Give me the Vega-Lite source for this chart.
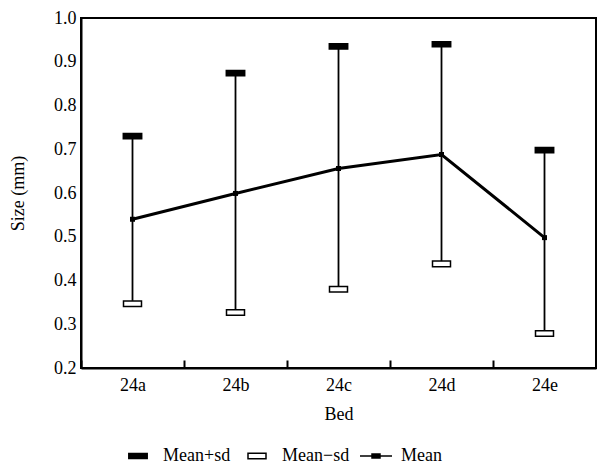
{
  "$schema": "https://vega.github.io/schema/vega-lite/v6.json",
  "width": 515,
  "height": 350,
  "autosize": {"type": "none"},
  "padding": {"left": 81, "top": 18, "right": 1, "bottom": 100},
  "background": "white",
  "config": {
    "view": {"stroke": "black", "strokeWidth": 2},
    "axis": {"domainColor": "black", "domainWidth": 2, "labelColor": "black", "titleColor": "black", "labelFontSize": 18, "titleFontSize": 18, "titleFontWeight": "normal", "grid": false}
  },
  "datasets": {
    "beds": [
      {"bed": "24a", "mean": 0.540, "hi": 0.730, "lo": 0.347},
      {"bed": "24b", "mean": 0.599, "hi": 0.874, "lo": 0.327},
      {"bed": "24c", "mean": 0.656, "hi": 0.935, "lo": 0.380},
      {"bed": "24d", "mean": 0.688, "hi": 0.940, "lo": 0.438},
      {"bed": "24e", "mean": 0.498, "hi": 0.698, "lo": 0.279}
    ]
  },
  "data": {"name": "beds"},
  "encoding": {
    "x": {
      "field": "bed", "type": "nominal",
      "scale": {"type": "band", "paddingInner": 0, "paddingOuter": 0},
      "axis": {"title": "Bed", "labelFont": "Liberation Serif", "titleFont": "Liberation Serif", "labelAngle": 0, "tickBand": "extent", "tickSize": -8, "tickColor": "black", "tickWidth": 2, "labelPadding": 16, "titlePadding": 11}
    }
  },
  "layer": [
    {
      "mark": {"type": "rule", "color": "black", "strokeWidth": 1.8},
      "encoding": {
        "y": {"field": "lo", "type": "quantitative", "scale": {"domain": [0.2, 1.0], "nice": false, "zero": false},
          "axis": {"title": "Size (mm)", "labelFont": "Liberation Serif", "titleFont": "Liberation Serif", "values": [0.2, 0.3, 0.4, 0.5, 0.6, 0.7, 0.8, 0.9, 1.0], "format": ".1f", "ticks": false, "tickSize": 0, "labelPadding": 5, "titlePadding": 26}},
        "y2": {"field": "hi"}
      }
    },
    {
      "mark": {"type": "line", "color": "black", "strokeWidth": 3},
      "encoding": {"y": {"field": "mean", "type": "quantitative"}}
    },
    {
      "mark": {"type": "square", "color": "black", "size": 25, "opacity": 1},
      "encoding": {"y": {"field": "mean", "type": "quantitative"}}
    },
    {
      "transform": [{"fold": ["hi", "lo"], "as": ["series", "value"]}],
      "mark": {"type": "point", "filled": true, "stroke": "black", "strokeWidth": 1.5, "size": 1600, "opacity": 1},
      "encoding": {
        "y": {"field": "value", "type": "quantitative"},
        "shape": {"field": "series", "type": "nominal",
          "scale": {"domain": ["hi", "lo", "mean"], "range": ["M-0.46,-0.13H0.46V0.13H-0.46Z", "M-0.45,-0.14H0.45V0.14H-0.45Z", "M-0.8,0H0.8M-0.2,-0.1H0.2V0.1H-0.2Z"]},
          "legend": {"title": null, "orient": "none", "legendX": 36, "legendY": 417, "direction": "horizontal", "symbolSize": 1600, "symbolOpacity": 1, "labelFontSize": 18, "labelFont": "Liberation Serif", "labelColor": "black", "labelOffset": 4, "columnPadding": 5, "padding": 0,
            "labelExpr": "datum.label == 'hi' ? 'Mean+sd' : datum.label == 'lo' ? 'Mean−sd' : 'Mean'",
            "encode": {"symbols": {"update": {"stroke": {"value": "black"}, "strokeWidth": {"value": 1.5}, "opacity": {"value": 1}}}}}
        },
        "fill": {"field": "series", "type": "nominal",
          "scale": {"domain": ["hi", "lo", "mean"], "range": ["black", "white", "black"]}}
      }
    }
  ]
}
